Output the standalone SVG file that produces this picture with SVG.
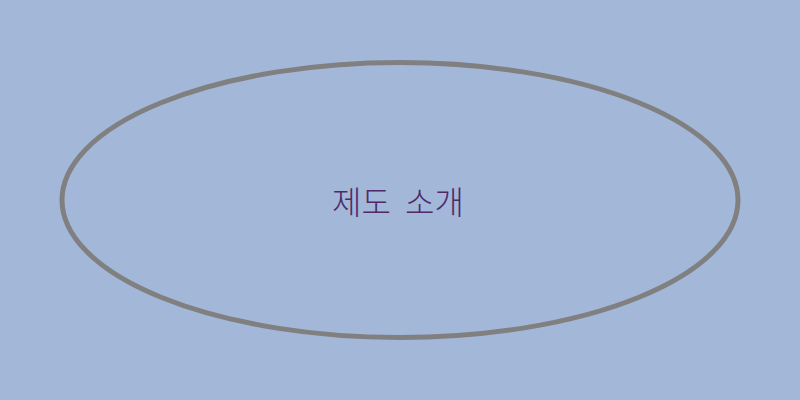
<svg xmlns="http://www.w3.org/2000/svg" width="800" height="400" viewBox="0 0 800 400">
<style>
.node-shape{fill:none;stroke:#808080;stroke-width:5}
.label{font-family:"Noto Sans CJK KR","Noto Sans",sans-serif;font-size:32px;font-weight:300;word-spacing:7px;fill:#4f2a6b;text-anchor:middle}
</style>
<rect width="800" height="400" fill="#a3b8d9"/>
<g id="connectors"/>
<g id="node-intro">
<ellipse class="node-shape" cx="400" cy="200" rx="338" ry="137.5"/>
<text class="label" x="398" y="214">제도 소개</text>
</g>
</svg>
